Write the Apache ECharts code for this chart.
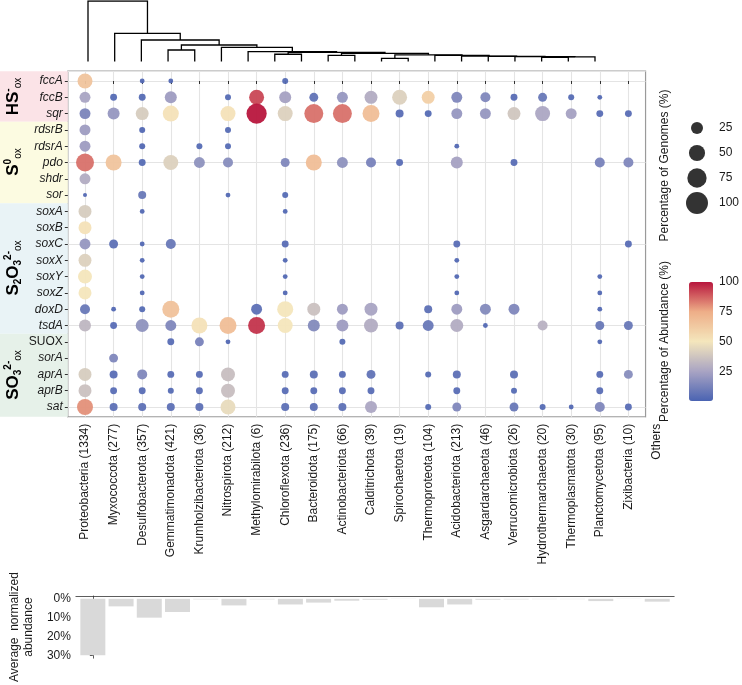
<!DOCTYPE html>
<html><head><meta charset="utf-8">
<script src="https://cdn.jsdelivr.net/npm/echarts@6/dist/echarts.min.js"></script>
<style>html,body{margin:0;padding:0;background:#fff}#c{width:742px;height:685px}</style>
</head><body><div id="c"></div>
<script>
// ---------------- data ----------------
const phyla = ['Proteobacteria','Myxococcota','Desulfobacterota','Gemmatimonadota','Krumholzibacteriota','Nitrospirota','Methylomirabilota','Chloroflexota','Bacteroidota','Actinobacteriota','Calditrichota','Spirochaetota','Thermoproteota','Acidobacteriota','Asgardarchaeota','Verrucomicrobiota','Hydrothermarchaeota','Thermoplasmatota','Planctomycetota','Zixibacteria'];
const genomeCounts = [1334,277,357,421,36,212,6,236,175,66,39,19,104,213,46,26,20,30,95,10];
const barCategories = ['Proteobacteria (1334)','Myxococcota (277)','Desulfobacterota (357)','Gemmatimonadota (421)','Krumholzibacteriota (36)','Nitrospirota (212)','Methylomirabilota (6)','Chloroflexota (236)','Bacteroidota (175)','Actinobacteriota (66)','Calditrichota (39)','Spirochaetota (19)','Thermoproteota (104)','Acidobacteriota (213)','Asgardarchaeota (46)','Verrucomicrobiota (26)','Hydrothermarchaeota (20)','Thermoplasmatota (30)','Planctomycetota (95)','Zixibacteria (10)','Others'];
const genes = ['fccA','fccB','sqr','rdsrB','rdsrA','pdo','shdr','sor','soxA','soxB','soxC','soxX','soxY','soxZ','doxD','tsdA','SUOX','sorA','aprA','aprB','sat'];
const geneGroupBounds = [[-0.6,2.5],[2.5,7.5],[7.5,15.5],[15.5,20.6]];
const geneGroupColors = ['#fbe3e7','#fcfbe1','#e9f3f6','#e6f1e9'];
// [gene, phylum, % of genomes, % of abundance]
const cells = [
 ['fccA','Proteobacteria',42,65],['fccB','Proteobacteria',20,25],['sqr','Proteobacteria',20,13],['rdsrB','Proteobacteria',20,22],['rdsrA','Proteobacteria',20,22],['pdo','Proteobacteria',64,85],['shdr','Proteobacteria',20,28],['sor','Proteobacteria',1,2],['soxA','Proteobacteria',30,40],['soxB','Proteobacteria',30,52],['soxC','Proteobacteria',20,20],['soxX','Proteobacteria',30,42],['soxY','Proteobacteria',36,50],['soxZ','Proteobacteria',30,50],['doxD','Proteobacteria',16,8],['tsdA','Proteobacteria',25,32],['aprA','Proteobacteria',30,40],['aprB','Proteobacteria',30,36],['sat','Proteobacteria',49,80],
 ['fccB','Myxococcota',6,3],['sqr','Myxococcota',25,20],['pdo','Myxococcota',49,65],['soxC','Myxococcota',12,5],['doxD','Myxococcota',2,2],['tsdA','Myxococcota',6,4],['sorA','Myxococcota',12,14],['aprA','Myxococcota',9,4],['aprB','Myxococcota',6,4],['sat','Myxococcota',9,5],
 ['fccA','Desulfobacterota',2,2],['fccB','Desulfobacterota',6,3],['sqr','Desulfobacterota',30,40],['rdsrB','Desulfobacterota',4,2],['rdsrA','Desulfobacterota',4,2],['pdo','Desulfobacterota',6,3],['sor','Desulfobacterota',9,8],['soxA','Desulfobacterota',2,2],['soxC','Desulfobacterota',2,2],['soxX','Desulfobacterota',2,2],['soxY','Desulfobacterota',2,2],['soxZ','Desulfobacterota',2,2],['doxD','Desulfobacterota',4,3],['tsdA','Desulfobacterota',30,18],['aprA','Desulfobacterota',16,14],['aprB','Desulfobacterota',6,4],['sat','Desulfobacterota',9,5],
 ['fccA','Gemmatimonadota',2,2],['fccB','Gemmatimonadota',25,22],['sqr','Gemmatimonadota',49,52],['pdo','Gemmatimonadota',42,42],['soxC','Gemmatimonadota',16,8],['doxD','Gemmatimonadota',56,66],['tsdA','Gemmatimonadota',20,14],['SUOX','Gemmatimonadota',6,4],['aprA','Gemmatimonadota',6,4],['aprB','Gemmatimonadota',4,3],['sat','Gemmatimonadota',9,5],
 ['rdsrA','Krumholzibacteriota',4,3],['pdo','Krumholzibacteriota',20,18],['tsdA','Krumholzibacteriota',49,52],['SUOX','Krumholzibacteriota',12,12],['aprA','Krumholzibacteriota',6,4],['aprB','Krumholzibacteriota',6,4],['sat','Krumholzibacteriota',9,5],
 ['fccB','Nitrospirota',4,3],['sqr','Nitrospirota',42,52],['rdsrB','Nitrospirota',4,3],['rdsrA','Nitrospirota',4,3],['pdo','Nitrospirota',16,16],['sor','Nitrospirota',2,2],['tsdA','Nitrospirota',56,68],['SUOX','Nitrospirota',2,2],['aprA','Nitrospirota',36,35],['aprB','Nitrospirota',36,35],['sat','Nitrospirota',42,46],
 ['fccB','Methylomirabilota',42,92],['sqr','Methylomirabilota',83,100],['doxD','Methylomirabilota',20,5],['tsdA','Methylomirabilota',56,95],
 ['fccA','Chloroflexota',4,3],['fccB','Chloroflexota',25,24],['sqr','Chloroflexota',42,42],['pdo','Chloroflexota',12,14],['sor','Chloroflexota',4,3],['soxA','Chloroflexota',2,2],['soxC','Chloroflexota',6,4],['soxX','Chloroflexota',2,2],['soxY','Chloroflexota',2,2],['soxZ','Chloroflexota',2,2],['doxD','Chloroflexota',49,50],['tsdA','Chloroflexota',42,50],['aprA','Chloroflexota',6,4],['aprB','Chloroflexota',6,4],['sat','Chloroflexota',9,5],
 ['fccB','Bacteroidota',12,6],['sqr','Bacteroidota',72,85],['pdo','Bacteroidota',49,68],['doxD','Bacteroidota',30,36],['tsdA','Bacteroidota',25,15],['aprA','Bacteroidota',9,5],['aprB','Bacteroidota',6,4],['sat','Bacteroidota',9,5],
 ['fccB','Actinobacteriota',20,20],['sqr','Actinobacteriota',72,85],['pdo','Actinobacteriota',20,18],['doxD','Actinobacteriota',20,22],['tsdA','Actinobacteriota',25,22],['SUOX','Actinobacteriota',4,3],['aprA','Actinobacteriota',6,4],['aprB','Actinobacteriota',6,4],['sat','Actinobacteriota',9,5],
 ['fccB','Calditrichota',30,28],['sqr','Calditrichota',56,68],['pdo','Calditrichota',16,12],['doxD','Calditrichota',30,25],['tsdA','Calditrichota',36,28],['aprA','Calditrichota',12,6],['aprB','Calditrichota',6,4],['sat','Calditrichota',25,26],
 ['fccB','Spirochaetota',42,42],['sqr','Spirochaetota',9,4],['pdo','Spirochaetota',6,4],['tsdA','Spirochaetota',9,5],
 ['fccB','Thermoproteota',30,60],['sqr','Thermoproteota',6,3],['doxD','Thermoproteota',9,5],['tsdA','Thermoproteota',20,8],['aprA','Thermoproteota',4,3],['sat','Thermoproteota',4,3],
 ['fccB','Acidobacteriota',20,14],['sqr','Acidobacteriota',20,20],['rdsrA','Acidobacteriota',2,2],['pdo','Acidobacteriota',25,24],['soxC','Acidobacteriota',6,4],['soxX','Acidobacteriota',2,2],['soxY','Acidobacteriota',2,2],['soxZ','Acidobacteriota',2,2],['doxD','Acidobacteriota',20,22],['tsdA','Acidobacteriota',30,28],['aprA','Acidobacteriota',9,5],['aprB','Acidobacteriota',6,4],['sat','Acidobacteriota',12,14],
 ['fccB','Asgardarchaeota',16,14],['sqr','Asgardarchaeota',20,20],['doxD','Asgardarchaeota',20,15],['tsdA','Asgardarchaeota',2,2],
 ['fccB','Verrucomicrobiota',6,4],['sqr','Verrucomicrobiota',30,38],['pdo','Verrucomicrobiota',6,4],['doxD','Verrucomicrobiota',20,14],['aprA','Verrucomicrobiota',9,5],['aprB','Verrucomicrobiota',4,3],['sat','Verrucomicrobiota',12,8],
 ['fccB','Hydrothermarchaeota',12,8],['sqr','Hydrothermarchaeota',42,26],['tsdA','Hydrothermarchaeota',16,30],['sat','Hydrothermarchaeota',4,3],
 ['fccB','Thermoplasmatota',4,3],['sqr','Thermoplasmatota',20,24],['sat','Thermoplasmatota',2,2],
 ['fccB','Planctomycetota',2,2],['sqr','Planctomycetota',6,4],['pdo','Planctomycetota',16,12],['soxY','Planctomycetota',2,2],['soxZ','Planctomycetota',2,2],['doxD','Planctomycetota',2,2],['tsdA','Planctomycetota',12,8],['SUOX','Planctomycetota',2,2],['aprA','Planctomycetota',6,4],['aprB','Planctomycetota',6,4],['sat','Planctomycetota',16,14],
 ['sqr','Zixibacteria',6,4],['pdo','Zixibacteria',16,14],['soxC','Zixibacteria',6,4],['tsdA','Zixibacteria',12,8],['aprA','Zixibacteria',12,16],['sat','Zixibacteria',6,4]
];
const avgAbundance = [30,4,10,7,0.3,3.5,0.3,3,2,1,0.5,0.1,4.5,3,0.5,0.3,0.2,0.2,1.2,0.1,1.5];
const barTicks = [0,10,20,30];
const sizeLegendValues = [25,50,75,100];
const colorLegendTicks = [25,50,75,100];
const colorStops = ['#4a63b2','#a9a4c3','#f4e6bc','#eeae88','#b8163d'];
// dendrogram merges: [childA, childB, height]; leaves 0..19, merges numbered from 20
const dendroMerges = [
 [3,4,0.19],[7,8,0.12],[9,10,0.10],[11,12,0.053],[17,18,0.07],
 [24,19,0.075],[16,25,0.08],[15,26,0.085],[14,27,0.09],[13,28,0.10],
 [23,29,0.11],[22,30,0.135],[21,31,0.15],[6,32,0.162],[5,33,0.235],
 [20,34,0.273],[2,35,0.355],[1,36,0.466],[0,37,1.0]
];

// ---------------- build ----------------
const FONT = '"Liberation Sans", Arial, sans-serif';
const pIdx = Object.fromEntries(phyla.map((p,i)=>[p,i]));
const gIdx = Object.fromEntries(genes.map((g,i)=>[g,i]));
const bubbleData = cells.map(c => [pIdx[c[1]], gIdx[c[0]], c[2], c[3]]);
const sizeOf = v => 2 + 20*Math.sqrt(v/100);
const range = n => Array.from({length:n},(_,i)=>i);

function dendroSegments(){
  const n = 20, pos = range(n), hts = range(n).map(()=>0), segs = [];
  dendroMerges.forEach(([a,b,h]) => {
    segs.push({coords:[[pos[a],hts[a]],[pos[a],h],[pos[b],h],[pos[b],hts[b]]]});
    pos.push((pos[a]+pos[b])/2); hts.push(h);
  });
  return segs;
}

const COLW = 28.6, ROWH = 16.3;
const bLeft = 85 - 0.6*COLW, bTop = 81 - 0.6*ROWH;
const bW = 20.2*COLW, bH = 21.2*ROWH, wideW = 21.2*COLW;

const chart = echarts.init(document.getElementById('c'));
const hidden = {show:false};
const GRIDC = '#e4e4e4';
const richFmt = {i:{fontStyle:'italic', fontSize:12, color:'#1a1a1a', fontFamily:FONT}, n:{fontSize:12, color:'#1a1a1a', fontFamily:FONT}};
const groupRich = {
  b:{fontSize:17, fontWeight:'bold', fontFamily:FONT, lineHeight:20, verticalAlign:'middle', color:'#000'},
  sb:{fontSize:10, fontWeight:'bold', fontFamily:FONT, lineHeight:10, verticalAlign:'bottom', color:'#000'},
  sup:{fontSize:10, fontWeight:'bold', fontFamily:FONT, lineHeight:10, verticalAlign:'top', color:'#000'},
  sub:{fontSize:10, fontFamily:FONT, lineHeight:10, verticalAlign:'bottom', color:'#000'}
};
chart.setOption({
  backgroundColor:'#fff',
  animation:false,
  textStyle:{fontFamily:FONT},
  grid:[
    {left:bLeft, top:bTop, width:bW, height:bH, show:true, borderColor:'#9a9a9a', borderWidth:1.2, backgroundColor:'transparent'},
    {left:bLeft, top:bTop+bH-30, width:wideW, height:30},
    {left:bLeft, top:596, width:wideW, height:70.5},
    {left:88, top:1, width:507, height:60.5},
    {left:0, top:bTop, width:bLeft, height:bH},
    {left:693, top:128, width:10, height:75},
    {left:689, top:282, width:24, height:119}
  ],
  xAxis:[
    {gridIndex:0, type:'value', min:-0.6, max:19.6, axisLine:hidden, axisLabel:{show:false},
     axisTick:{show:true, length:3, customValues:range(20), lineStyle:{color:'#333'}},
     splitLine:{show:true, lineStyle:{color:GRIDC, width:1.1}}},
    {gridIndex:1, type:'value', min:-0.6, max:20.6, axisLine:hidden, axisTick:hidden, splitLine:hidden,
     axisLabel:{show:true, customValues:range(21), rotate:90, margin:7, fontSize:12, color:'#1a1a1a', formatter:v=>barCategories[v]}},
    {gridIndex:2, type:'value', position:'top', min:-0.6, max:20.6, axisLine:{show:true, onZero:false, lineStyle:{color:'#333', width:0.8}}, axisTick:hidden, axisLabel:hidden, splitLine:hidden},
    {gridIndex:3, type:'value', min:0, max:19, show:false},
    {gridIndex:4, type:'value', min:0, max:1, show:false},
    {gridIndex:5, type:'value', min:0, max:1, show:false},
    {gridIndex:6, type:'value', min:0, max:1, show:false}
  ],
  yAxis:[
    {gridIndex:0, type:'value', inverse:true, min:-0.6, max:20.6, axisLine:hidden, axisTick:hidden, axisLabel:hidden,
     splitLine:{show:true, lineStyle:{color:GRIDC, width:1.1}}},
    {gridIndex:1, type:'value', show:false, min:0, max:1},
    {gridIndex:2, type:'value', inverse:true, min:-1.5, max:31.5,
     name:'Average  normalized\nabundance', nameLocation:'middle', nameGap:25, nameRotate:90,
     nameTextStyle:{fontSize:12, color:'#1a1a1a', lineHeight:14},
     axisLine:{show:true, lineStyle:{color:'#333', width:0.8}},
     axisTick:{show:true, length:3, customValues:barTicks, lineStyle:{color:'#333'}},
     axisLabel:{customValues:barTicks, formatter:v=>v+'%', fontSize:12, color:'#1a1a1a', margin:5},
     splitLine:hidden},
    {gridIndex:3, type:'value', min:0, max:1, show:false},
    {gridIndex:4, type:'value', inverse:true, min:-0.6, max:20.6, show:false},
    {gridIndex:5, type:'value', inverse:true, min:25, max:100, position:'right',
     axisLine:hidden, axisTick:hidden, splitLine:hidden,
     axisLabel:{customValues:sizeLegendValues, margin:18, fontSize:12, color:'#1a1a1a'}},
    {gridIndex:5, type:'value', inverse:true, min:25, max:100, position:'left',
     name:'Percentage of Genomes (%)', nameLocation:'middle', nameRotate:90, nameGap:22,
     nameTextStyle:{fontSize:12, color:'#1a1a1a'},
     axisLine:hidden, axisTick:hidden, axisLabel:hidden, splitLine:hidden},
    {gridIndex:6, type:'value', min:0, max:100, position:'left',
     name:'Percentage of Abundance (%)', nameLocation:'middle', nameRotate:90, nameGap:18,
     nameTextStyle:{fontSize:12, color:'#1a1a1a'},
     axisLine:hidden, axisLabel:hidden, splitLine:hidden,
     axisTick:{show:true, inside:true, length:5, customValues:colorLegendTicks.slice(0,3), lineStyle:{color:'#fff', width:1}}},
    {gridIndex:6, type:'value', min:0, max:100, position:'right',
     axisLine:hidden, splitLine:hidden,
     axisTick:{show:true, inside:true, length:5, customValues:colorLegendTicks.slice(0,3), lineStyle:{color:'#fff', width:1}},
     axisLabel:{customValues:colorLegendTicks, margin:9, fontSize:12, color:'#1a1a1a'}},
    {gridIndex:0, type:'value', inverse:true, min:-0.6, max:20.6, position:'left', z:10, axisLine:hidden, splitLine:hidden,
     axisTick:{show:true, length:3, customValues:range(21), lineStyle:{color:'#333'}},
     axisLabel:{show:true, customValues:range(21), margin:5, fontSize:12, color:'#1a1a1a',
       formatter:v=> genes[v]==='SUOX' ? '{n|SUOX}' : '{i|'+genes[v]+'}', rich:richFmt}}
  ],
  visualMap:{type:'continuous', seriesIndex:0, dimension:3, min:0, max:100, show:true,
    calculable:false, left:689, top:282, itemWidth:24, itemHeight:119, padding:0, text:null,
    inRange:{color:colorStops}, hoverLink:false},
  series:[
    {type:'scatter', xAxisIndex:0, yAxisIndex:0, data:bubbleData, symbolSize:v=>sizeOf(v[2]),
     itemStyle:{opacity:0.95}, z:5},
    {type:'bar', xAxisIndex:2, yAxisIndex:2, barWidth:25, data:avgAbundance.map((v,i)=>[i,v]),
     itemStyle:{color:'#d9d9d9'}},
    {type:'lines', coordinateSystem:'cartesian2d', xAxisIndex:3, yAxisIndex:3, polyline:true,
     data:dendroSegments(), lineStyle:{color:'#000', width:1.3, opacity:1}},
    {type:'scatter', xAxisIndex:4, yAxisIndex:4, data:[], z:0,
     markArea:{silent:true, data:geneGroupBounds.map((b,i)=>[{yAxis:b[0], xAxis:0, itemStyle:{color:geneGroupColors[i]}},{yAxis:b[1], xAxis:1}])}},
    {type:'scatter', xAxisIndex:5, yAxisIndex:5, data:sizeLegendValues.map(v=>[0.5,v]),
     symbolSize:v=>sizeOf(v[1]), itemStyle:{color:'#000'}}
  ],
  graphic:[
    {type:'text', x:13, y:96.5, rotation:Math.PI/2, z:20, style:{text:'{b|HS}{sup|-}{sub|ox}', align:'center', verticalAlign:'middle', rich:groupRich}},
    {type:'text', x:13, y:162, rotation:Math.PI/2, z:20, style:{text:'{b|S}{sup|0}{sub|ox}', align:'center', verticalAlign:'middle', rich:groupRich}},
    {type:'text', x:13, y:268, rotation:Math.PI/2, z:20, style:{text:'{b|S}{sb|2}{b|O}{sb|3}{sup|2-}{sub|ox}', align:'center', verticalAlign:'middle', rich:groupRich}},
    {type:'text', x:13, y:375, rotation:Math.PI/2, z:20, style:{text:'{b|SO}{sb|3}{sup|2-}{sub|ox}', align:'center', verticalAlign:'middle', rich:groupRich}}
  ]
});
</script></body></html>
